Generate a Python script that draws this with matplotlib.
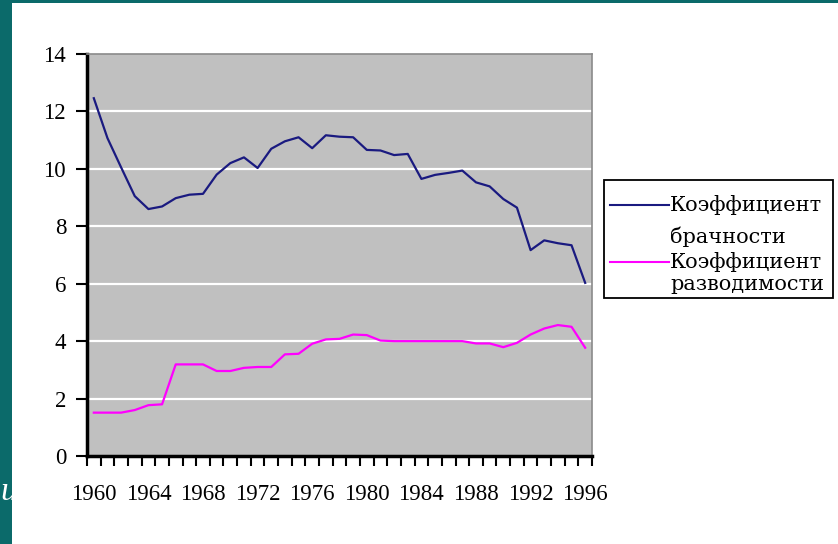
import matplotlib
matplotlib.use("Agg")
import matplotlib.pyplot as plt
from matplotlib.patches import Rectangle
from matplotlib.lines import Line2D

years = list(range(1960, 1997))
marriage = [12.46, 11.07, 10.05, 9.05, 8.6, 8.69, 8.98, 9.1, 9.13, 9.8,
            10.2, 10.4, 10.03, 10.7, 10.96, 11.1, 10.72, 11.17, 11.12, 11.1,
            10.66, 10.64, 10.48, 10.52, 9.65, 9.79, 9.86, 9.94, 9.53, 9.39,
            8.95, 8.65, 7.17, 7.51, 7.41, 7.34, 6.03]
divorce = [1.51, 1.51, 1.51, 1.6, 1.77, 1.8, 3.19, 3.19, 3.19, 2.96,
           2.96, 3.07, 3.1, 3.1, 3.54, 3.56, 3.91, 4.06, 4.08, 4.23,
           4.21, 4.02, 4.0, 4.0, 4.0, 4.0, 4.0, 4.0, 3.92, 3.92,
           3.79, 3.94, 4.23, 4.44, 4.56, 4.5, 3.77]
labels = ["Коэффициент\nбрачности", "Коэффициент\nразводимости"]
yticks = [0, 2, 4, 6, 8, 10, 12, 14]
xtick_years = list(range(1960, 1997, 4))

W, H = 838, 544
fig = plt.figure(figsize=(W / 100, H / 100), dpi=100, facecolor="#0b6a6a")

def fx(x):
    return x / W

def fy(y):
    return 1 - y / H

# white slide area
fig.patches.append(Rectangle((fx(12), 0), 1 - fx(12), fy(3), transform=fig.transFigure,
                             facecolor="white", edgecolor="none", zorder=-1))
fig.text(fx(0), fy(492), "и", color="white", fontsize=24, style="italic",
         family="Liberation Serif", va="center", ha="left", zorder=5)

ax = fig.add_axes([fx(87), fy(456), fx(592) - fx(87), fy(54) - fy(456)])
ax.set_facecolor("#c0c0c0")
pos = [y - 1960 for y in years]
ax.plot(pos, marriage, color="#1a1a80", lw=1.6, zorder=3)
ax.plot(pos, divorce, color="#ff00ff", lw=1.6, zorder=3)

ax.set_xlim(-0.5, len(years) - 0.5)
ax.set_ylim(0, 14)
ax.set_yticks(yticks)
ax.set_yticklabels([str(v) for v in yticks])
for v in yticks[1:-1]:
    ax.axhline(v, color="white", lw=1.6, zorder=1)

ax.set_xticks([y - 1960 for y in xtick_years])
ax.set_xticklabels([str(y) for y in xtick_years])
ax.set_xticks([i - 0.5 for i in range(len(years) + 1)], minor=True)
ax.tick_params(axis="x", which="major", length=0, pad=20)
ax.tick_params(axis="x", which="minor", length=7, width=1.5, color="black", direction="out")
ax.tick_params(axis="y", length=8, width=1.5, color="black", direction="out", pad=7)
for t in ax.get_xticklabels() + ax.get_yticklabels():
    t.set_family("Liberation Serif")
    t.set_fontsize(16.5)
    t.set_color("black")

ax.spines["left"].set_linewidth(2.5)
ax.spines["bottom"].set_linewidth(2.5)
ax.spines["left"].set_color("black")
ax.spines["bottom"].set_color("black")
for s in ["top", "right"]:
    ax.spines[s].set_color("#8a8a8a")
    ax.spines[s].set_linewidth(1.2)

# legend (manual)
box = Rectangle((fx(604), fy(298)), fx(833) - fx(604), fy(180) - fy(298),
                transform=fig.transFigure, facecolor="white", edgecolor="black",
                lw=1.3, zorder=4)
fig.patches.append(box)
colors = ["#1a1a80", "#ff00ff"]
rows = [(205, 237), (262, 285)]
for lab, col, (r1, r2) in zip(labels, colors, rows):
    fig.add_artist(Line2D([fx(610), fx(669)], [fy(r1), fy(r1)], transform=fig.transFigure,
                          color=col, lw=1.5, zorder=5))
    l1, l2 = lab.split("\n")
    for txt, r in [(l1, r1), (l2, r2)]:
        fig.text(fx(670), fy(r), txt, fontsize=15, family="DejaVu Serif",
                 va="center", ha="left", color="black", zorder=6)

fig.savefig("out.png", dpi=100, facecolor=fig.get_facecolor())
